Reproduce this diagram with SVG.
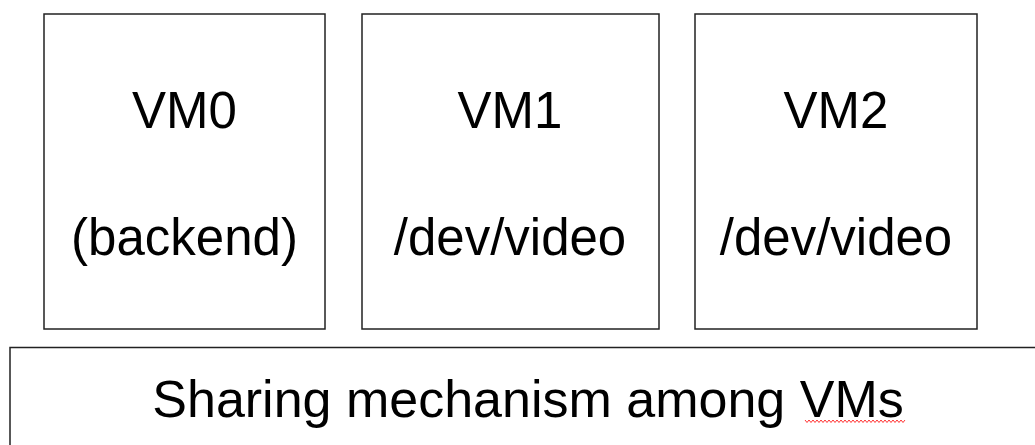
<svg xmlns="http://www.w3.org/2000/svg" width="1035" height="445" viewBox="0 0 1035 445">
<style>
.box{fill:#fff;stroke:#222;stroke-width:1.5}
.t{font-family:"Liberation Sans",Arial,sans-serif;font-size:51px;fill:#000;text-anchor:middle}
.big{font-size:52px}
</style>
<rect width="1035" height="445" fill="#fff"/>
<g id="vm0">
<rect class="box" x="44" y="14" width="281" height="315"/>
<text class="t" x="184.5" y="128">VM0</text>
<text class="t" x="184.5" y="255">(backend)</text>
</g>
<g id="vm1">
<rect class="box" x="362" y="14" width="297" height="315"/>
<text class="t" x="510" y="128">VM1</text>
<text class="t" x="510" y="255">/dev/video</text>
</g>
<g id="vm2">
<rect class="box" x="695" y="14" width="282" height="315"/>
<text class="t" x="836" y="128">VM2</text>
<text class="t" x="836" y="255">/dev/video</text>
</g>
<g id="sharing">
<rect class="box" x="10" y="347.5" width="1040" height="110"/>
<text class="t big" x="528" y="417">Sharing mechanism among VMs</text>
<polyline fill="none" stroke="#f33" stroke-width="1" points="805,420 807,422.5 809,420 811,422.5 813,420 815,422.5 817,420 819,422.5 821,420 823,422.5 825,420 827,422.5 829,420 831,422.5 833,420 835,422.5 837,420 839,422.5 841,420 843,422.5 845,420 847,422.5 849,420 851,422.5 853,420 855,422.5 857,420 859,422.5 861,420 863,422.5 865,420 867,422.5 869,420 871,422.5 873,420 875,422.5 877,420 879,422.5 881,420 883,422.5 885,420 887,422.5 889,420 891,422.5 893,420 895,422.5 897,420 899,422.5 901,420 903,422.5 905,420"/>
</g>
<g id="connectors"/>
</svg>
